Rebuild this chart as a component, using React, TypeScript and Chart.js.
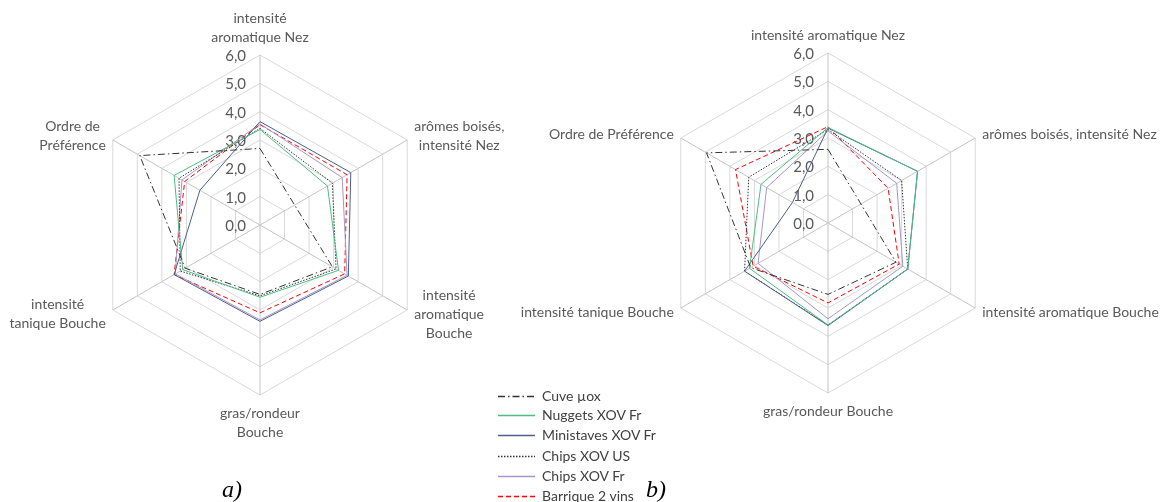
import React, { useEffect, useRef } from "react";
import { Chart, registerables } from "chart.js";

Chart.register(...registerables);

// Axis labels (clockwise from top)
const axisLabelsA: string[][] = [
  ["intensité", "aromatique Nez"],
  ["arômes boisés,", "intensité Nez"],
  ["intensité", "aromatique", "Bouche"],
  ["gras/rondeur", "Bouche"],
  ["intensité", "tanique Bouche"],
  ["Ordre de", "Préférence"],
];
const axisLabelsB: string[][] = [
  ["intensité aromatique Nez"],
  ["arômes boisés, intensité Nez"],
  ["intensité aromatique Bouche"],
  ["gras/rondeur Bouche"],
  ["intensité tanique Bouche"],
  ["Ordre de Préférence"],
];

const tickValues = [0, 1, 2, 3, 4, 5, 6];
const tickLabels = ["0,0", "1,0", "2,0", "3,0", "4,0", "5,0", "6,0"];

const seriesNames = [
  "Cuve µox",
  "Nuggets XOV Fr",
  "Ministaves XOV Fr",
  "Chips XOV US",
  "Chips XOV Fr",
  "Barrique 2 vins",
];

// Chart a) values
const cuveA = [2.7, null, 2.95, 2.45, 3.05, 4.9];
const nuggetsA = [3.37, 2.75, 3.2, 2.55, 3.15, 3.5];
const ministavesA = [3.65, 3.7, 3.6, 3.4, 3.5, 2.45];
const chipsUsA = [3.41, 2.95, 3.1, 2.5, 3.25, 3.3];
const chipsFrA = [3.57, 3.35, 3.55, 3.35, 3.45, 3.18];
const barriqueA = [3.54, 3.55, 3.45, 3.1, 3.5, 3.07];

// Chart b) values
const cuveB = [2.6, null, 2.77, 2.52, 3.15, 4.95];
const nuggetsB = [3.37, 3.65, 3.25, 3.6, 3.2, 2.73];
const ministavesB = [3.35, 3.65, 3.25, 3.62, 3.4, 1.45];
const chipsUsB = [3.3, 3.0, 3.25, 3.6, 3.4, 3.23];
const chipsFrB = [3.25, 2.8, 3.05, 3.38, 2.85, 2.5];
const barriqueB = [3.4, 2.45, 2.9, 2.82, 3.05, 3.77];

// Styles
const seriesColors = ["#333333", "#4EBD7F", "#4B5E8E", "#333333", "#A597C9", "#FF0000"];
const seriesDashes: number[][] = [[7, 3, 1.5, 3], [], [], [1.5, 1.5], [], [5, 3]];

const FONT = "Lato, 'Open Sans', sans-serif";

const radarText = {
  id: "radarText",
  beforeDatasetsDraw(chart: any) {
    const s = chart.scales.r;
    const ctx = chart.ctx as CanvasRenderingContext2D;
    ctx.save();
    ctx.font = `15px ${FONT}`;
    ctx.fillStyle = "#595959";
    ctx.textAlign = "right";
    ctx.textBaseline = "middle";
    tickValues.forEach((v, i) => {
      const y = s.yCenter - s.getDistanceFromCenterForValue(v);
      ctx.fillText(tickLabels[i], s.xCenter - 14, y + 1);
    });
    ctx.font = `14px ${FONT}`;
    const lh = 19;
    const labels = chart.data.labels as any[];
    labels.forEach((lab, i) => {
      const lines: string[] = Array.isArray(lab) ? lab : [lab];
      const p = s.getPointPosition(i, s.drawingArea);
      const bw = Math.max(...lines.map((l) => ctx.measureText(l).width));
      const bh = lines.length * lh;
      let cx = p.x;
      let top = p.y;
      if (i === 0) {
        top = p.y - 8 - bh;
      } else if (i === 3) {
        top = p.y + 9;
      } else if (i === 1 || i === 2) {
        cx = p.x + 7 + bw / 2;
        top = p.y - bh / 2 + (i === 1 ? -4 : 4);
      } else {
        cx = p.x - 7 - bw / 2;
        top = p.y - bh / 2 + (i === 5 ? -4 : 4);
      }
      ctx.textAlign = "center";
      ctx.textBaseline = "middle";
      lines.forEach((l, k) => ctx.fillText(l, cx, top + lh * k + lh / 2));
    });
    ctx.restore();
  },
};

function makeConfig(labels: string[][], series: (number | null)[][], padding: any): any {
  return {
    type: "radar",
    data: {
      labels,
      datasets: series.map((vals, i) => ({
        label: seriesNames[i],
        data: vals,
        borderColor: seriesColors[i],
        borderDash: seriesDashes[i],
        borderWidth: 1,
        pointRadius: 0,
        pointHoverRadius: 0,
        fill: false,
        tension: 0,
        spanGaps: true,
      })),
    },
    options: {
      responsive: false,
      animation: false,
      layout: { padding },
      plugins: { legend: { display: false }, tooltip: { enabled: false } },
      scales: {
        r: {
          min: 0,
          max: 6,
          ticks: { display: false, stepSize: 1 },
          grid: { color: "#D9D9D9", lineWidth: 1 },
          angleLines: { color: "#C4C4C4", lineWidth: 1 },
          pointLabels: { display: false },
        },
      },
    },
    plugins: [radarText],
  };
}

function LegendLine({ color, dash }: { color: string; dash: number[] }) {
  return (
    <svg width={38} height={20} style={{ display: "block" }}>
      <line
        x1={0}
        y1={10.5}
        x2={37}
        y2={10.5}
        stroke={color}
        strokeWidth={1.5}
        strokeDasharray={dash.length ? dash.join(" ") : undefined}
      />
    </svg>
  );
}

export default function App() {
  const refA = useRef<HTMLCanvasElement>(null);
  const refB = useRef<HTMLCanvasElement>(null);

  useEffect(() => {
    const a = new Chart(
      refA.current as HTMLCanvasElement,
      makeConfig(
        axisLabelsA,
        [cuveA, nuggetsA, ministavesA, chipsUsA, chipsFrA, barriqueA],
        { left: 90, right: 110, top: 55, bottom: 65 }
      )
    );
    const b = new Chart(
      refB.current as HTMLCanvasElement,
      makeConfig(
        axisLabelsB,
        [cuveB, nuggetsB, ministavesB, chipsUsB, chipsFrB, barriqueB],
        { left: 158, right: 164, top: 53, bottom: 67 }
      )
    );
    return () => {
      a.destroy();
      b.destroy();
    };
  }, []);

  const legendY = [396, 415, 434.5, 456, 476, 495.5];

  return (
    <div
      style={{
        position: "absolute",
        left: 0,
        top: 0,
        width: 1162,
        height: 502,
        overflow: "hidden",
        background: "#ffffff",
      }}
    >
      <canvas
        ref={refA}
        width={540}
        height={460}
        style={{ position: "absolute", left: 0, top: 0, width: 540, height: 460 }}
      />
      <canvas
        ref={refB}
        width={662}
        height={460}
        style={{ position: "absolute", left: 500, top: 0, width: 662, height: 460 }}
      />
      {seriesNames.map((name, i) => (
        <div
          key={name}
          style={{
            position: "absolute",
            left: 498,
            top: legendY[i] - 10,
            height: 20,
            display: "flex",
            alignItems: "center",
            fontFamily: FONT,
            fontSize: 14,
            color: "#404040",
            whiteSpace: "nowrap",
          }}
        >
          <LegendLine color={seriesColors[i]} dash={seriesDashes[i]} />
          <span style={{ marginLeft: 6, lineHeight: "20px" }}>{name}</span>
        </div>
      ))}
      <div
        style={{
          position: "absolute",
          left: 222,
          top: 476,
          fontFamily: "'Liberation Serif', 'Times New Roman', serif",
          fontStyle: "italic",
          fontSize: 24,
          lineHeight: "26px",
          color: "#000",
        }}
      >
        a)
      </div>
      <div
        style={{
          position: "absolute",
          left: 646,
          top: 476,
          fontFamily: "'Liberation Serif', 'Times New Roman', serif",
          fontStyle: "italic",
          fontSize: 24,
          lineHeight: "26px",
          color: "#000",
        }}
      >
        b)
      </div>
    </div>
  );
}
